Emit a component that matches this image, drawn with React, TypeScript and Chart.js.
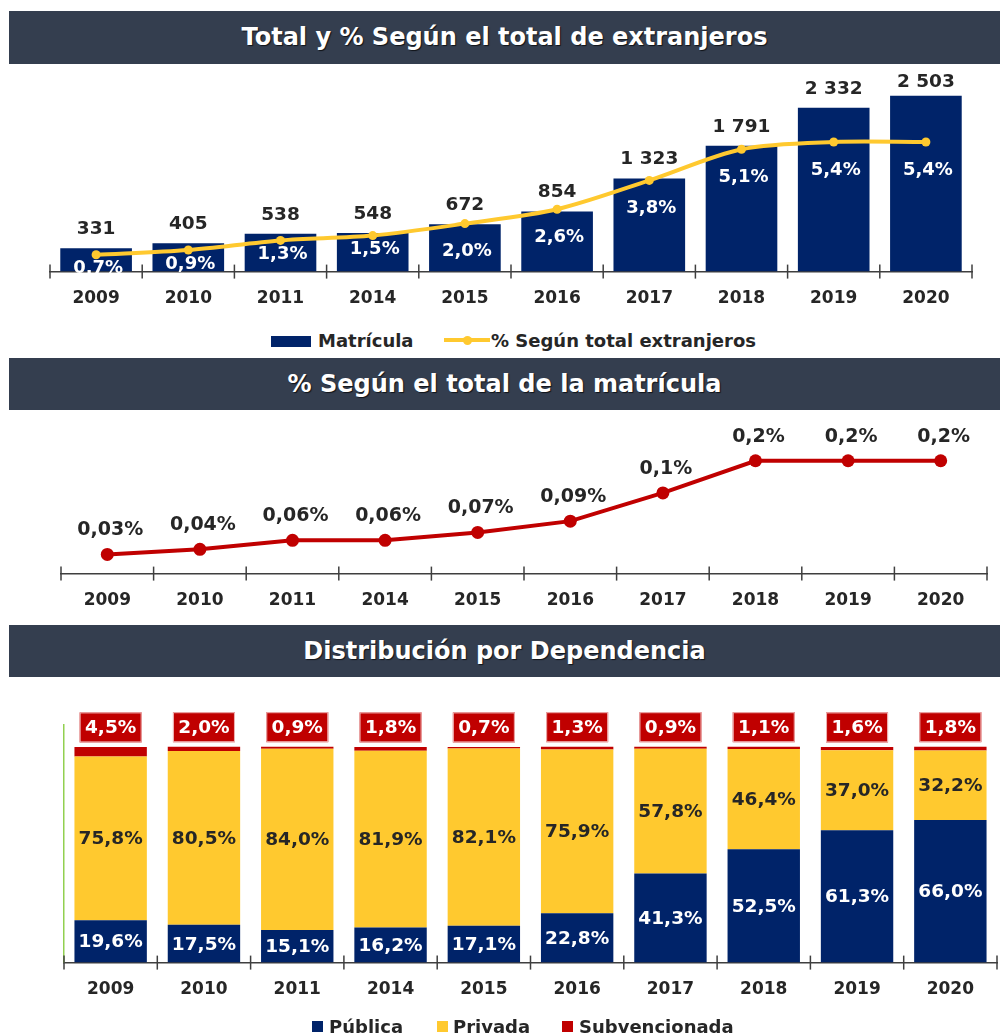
import React, { useEffect, useRef } from 'react';
import { Chart, registerables } from 'chart.js';

Chart.register(...registerables);

// ---------- DATA ----------
const YEARS = ['2009', '2010', '2011', '2014', '2015', '2016', '2017', '2018', '2019', '2020'];
const MATRICULA = [331, 405, 538, 548, 672, 854, 1323, 1791, 2332, 2503];
const PCT_EXTRANJEROS = [0.7, 0.9, 1.3, 1.5, 2.0, 2.6, 3.8, 5.1, 5.4, 5.4];
const PCT_MATRICULA = [0.034, 0.043, 0.059, 0.059, 0.073, 0.093, 0.143, 0.2, 0.2, 0.2];
const PUBLICA = [19.6, 17.5, 15.1, 16.2, 17.1, 22.8, 41.3, 52.5, 61.3, 66.0];
const PRIVADA = [75.8, 80.5, 84.0, 81.9, 82.1, 75.9, 57.8, 46.4, 37.0, 32.2];
const SUBVENCIONADA = [4.5, 2.0, 0.9, 1.8, 0.7, 1.3, 0.9, 1.1, 1.6, 1.8];

const TITLE_1 = 'Total y % Según el total de extranjeros';
const TITLE_2 = '% Según el total de la matrícula';
const TITLE_3 = 'Distribución por Dependencia';
const LEGEND_1 = ['Matrícula', '% Según total extranjeros'];
const LEGEND_3 = ['Pública', 'Privada', 'Subvencionada'];

// ---------- STYLE ----------
const NAVY = '#002369';
const YELLOW = '#ffc92f';
const RED = '#c00000';
const DARK = '#262626';
const AXIS = '#3f3f3f';
const TITLE_BG = '#343e4f';
const FONT = '"DejaVu Sans", sans-serif';

const fmtThousands = (v: number) => String(v).replace(/\B(?=(\d{3})+(?!\d))/g, ' ');
const fmtPct = (v: number, d: number) => v.toFixed(d).replace('.', ',') + '%';
const fmtSmallPct = (v: number) => fmtPct(v, v >= 0.1 ? 1 : 2);

const tickMarks = {
  id: 'tickMarks',
  afterDraw(chart: any) {
    const x = chart.scales.x;
    const ctx = chart.ctx;
    const n = chart.data.labels.length;
    const step = (x.right - x.left) / n;
    const y = x.top;
    ctx.save();
    ctx.strokeStyle = AXIS;
    ctx.lineWidth = 1.5;
    for (let i = 0; i <= n; i++) {
      const px = x.left + i * step;
      ctx.beginPath();
      ctx.moveTo(px, y - 7);
      ctx.lineTo(px, y + 7);
      ctx.stroke();
    }
    ctx.restore();
  },
};

const xAxis = (extra: any = {}) => ({
  grid: { display: false, drawTicks: false },
  border: { display: true, color: AXIS, width: 1.5 },
  ticks: { font: { family: FONT, weight: 'bold', size: 17 }, color: DARK, padding: 17, maxRotation: 0, autoSkip: false },
  ...extra,
});

const labels1 = {
  id: 'labels1',
  afterDatasetsDraw(chart: any) {
    const ctx = chart.ctx;
    const lineMeta = chart.getDatasetMeta(0);
    const barMeta = chart.getDatasetMeta(1);
    const axisY = chart.scales.x.top;
    ctx.save();
    ctx.textAlign = 'center';
    ctx.textBaseline = 'middle';
    ctx.font = `bold 18.5px ${FONT}`;
    ctx.fillStyle = DARK;
    barMeta.data.forEach((bar: any, i: number) => {
      const y = Math.max(bar.y - 19, chart.chartArea.top + 7);
      ctx.fillText(fmtThousands(MATRICULA[i]), bar.x, y);
    });
    ctx.font = `bold 18px ${FONT}`;
    ctx.fillStyle = '#ffffff';
    lineMeta.data.forEach((pt: any, i: number) => {
      const gap = axisY - pt.y;
      const off = gap < 40 ? 14 : 28;
      ctx.fillText(fmtPct(PCT_EXTRANJEROS[i], 1), pt.x + 2, pt.y + off);
    });
    ctx.restore();
  },
};

const labels2 = {
  id: 'labels2',
  afterDatasetsDraw(chart: any) {
    const ctx = chart.ctx;
    const meta = chart.getDatasetMeta(0);
    ctx.save();
    ctx.textAlign = 'center';
    ctx.textBaseline = 'middle';
    ctx.font = `bold 19px ${FONT}`;
    ctx.fillStyle = DARK;
    meta.data.forEach((pt: any, i: number) => {
      ctx.fillText(fmtSmallPct(PCT_MATRICULA[i]), pt.x + 3, pt.y - 24);
    });
    ctx.restore();
  },
};

const labels3 = {
  id: 'labels3',
  afterDatasetsDraw(chart: any) {
    const ctx = chart.ctx;
    const m0 = chart.getDatasetMeta(0);
    const m1 = chart.getDatasetMeta(1);
    const m2 = chart.getDatasetMeta(2);
    ctx.save();
    ctx.textAlign = 'center';
    ctx.textBaseline = 'middle';
    ctx.font = `bold 18.5px ${FONT}`;
    m0.data.forEach((b: any, i: number) => {
      ctx.fillStyle = '#ffffff';
      ctx.fillText(fmtPct(PUBLICA[i], 1), b.x, (b.y + b.base) / 2 + 1);
    });
    m1.data.forEach((b: any, i: number) => {
      ctx.fillStyle = DARK;
      ctx.fillText(fmtPct(PRIVADA[i], 1), b.x, (b.y + b.base) / 2 + 1);
    });
    m2.data.forEach((b: any, i: number) => {
      const w = 62, h = 30;
      const bottom = b.y - 4.5;
      ctx.fillStyle = RED;
      ctx.fillRect(b.x - w / 2, bottom - h, w, h);
      ctx.strokeStyle = '#f0b8b8';
      ctx.lineWidth = 1;
      ctx.strokeRect(b.x - w / 2 + 0.5, bottom - h + 0.5, w - 1, h - 1);
      ctx.fillStyle = '#ffffff';
      ctx.fillText(fmtPct(SUBVENCIONADA[i], 1), b.x, bottom - h / 2 + 1);
    });
    ctx.restore();
  },
};

const titleStyle = (top: number, height: number): React.CSSProperties => ({
  position: 'absolute',
  left: 9,
  top,
  width: 991,
  height,
  background: TITLE_BG,
  color: '#ffffff',
  fontFamily: FONT,
  fontWeight: 'bold',
  fontSize: 24,
  lineHeight: `${height}px`,
  textAlign: 'center',
  textShadow: '1px 1px 1px rgba(0,0,0,0.7)',
  whiteSpace: 'nowrap',
});

const legendText = (left: number, top: number): React.CSSProperties => ({
  position: 'absolute',
  left,
  top,
  height: 22,
  lineHeight: '22px',
  fontFamily: FONT,
  fontWeight: 'bold',
  fontSize: 18,
  color: DARK,
  whiteSpace: 'nowrap',
});

const box = (left: number, top: number, w: number, h: number, bg: string, extra: React.CSSProperties = {}): React.CSSProperties => ({
  position: 'absolute', left, top, width: w, height: h, background: bg, ...extra,
});

export default function App() {
  const c1 = useRef<HTMLCanvasElement>(null);
  const c2 = useRef<HTMLCanvasElement>(null);
  const c3 = useRef<HTMLCanvasElement>(null);

  useEffect(() => {
    const charts: Chart[] = [];

    charts.push(new Chart(c1.current as HTMLCanvasElement, {
      type: 'bar',
      data: {
        labels: YEARS,
        datasets: [
          {
            type: 'line',
            label: LEGEND_1[1],
            data: PCT_EXTRANJEROS,
            yAxisID: 'y2',
            borderColor: YELLOW,
            backgroundColor: YELLOW,
            borderWidth: 4,
            pointRadius: 4.5,
            pointBackgroundColor: YELLOW,
            pointBorderWidth: 0,
            tension: 0.3,
            order: 0,
          } as any,
          {
            type: 'bar',
            label: LEGEND_1[0],
            data: MATRICULA,
            yAxisID: 'y',
            backgroundColor: NAVY,
            barPercentage: 0.777,
            categoryPercentage: 1,
            order: 1,
          },
        ],
      },
      options: {
        animation: false,
        responsive: false,
        layout: { padding: { left: 50, right: 28, top: 10.8, bottom: 0 } },
        plugins: { legend: { display: false }, tooltip: { enabled: false } },
        scales: {
          x: xAxis() as any,
          y: { display: false, min: 0, max: 2800 },
          y2: { display: false, min: 0, max: 8.2, position: 'right' },
        },
      },
      plugins: [tickMarks, labels1],
    }));

    charts.push(new Chart(c2.current as HTMLCanvasElement, {
      type: 'line',
      data: {
        labels: YEARS,
        datasets: [
          {
            label: TITLE_2,
            data: PCT_MATRICULA,
            borderColor: RED,
            backgroundColor: RED,
            borderWidth: 4,
            pointRadius: 6.5,
            pointBackgroundColor: RED,
            pointBorderWidth: 0,
            tension: 0,
          },
        ],
      },
      options: {
        animation: false,
        responsive: false,
        layout: { padding: { left: 61, right: 13, top: 16.9, bottom: 0 } },
        plugins: { legend: { display: false }, tooltip: { enabled: false } },
        scales: {
          x: xAxis({ offset: true }) as any,
          y: { display: false, min: 0, max: 0.26 },
        },
      },
      plugins: [tickMarks, labels2],
    }));

    charts.push(new Chart(c3.current as HTMLCanvasElement, {
      type: 'bar',
      data: {
        labels: YEARS,
        datasets: [
          { label: LEGEND_3[0], data: PUBLICA, backgroundColor: NAVY, barPercentage: 0.776, categoryPercentage: 1 },
          { label: LEGEND_3[1], data: PRIVADA, backgroundColor: YELLOW, barPercentage: 0.776, categoryPercentage: 1 },
          { label: LEGEND_3[2], data: SUBVENCIONADA, backgroundColor: RED, barPercentage: 0.776, categoryPercentage: 1 },
        ],
      },
      options: {
        animation: false,
        responsive: false,
        layout: { padding: { left: 64, right: 3, top: 48.1, bottom: 0 } },
        plugins: { legend: { display: false }, tooltip: { enabled: false } },
        scales: {
          x: xAxis({ stacked: true }) as any,
          y: {
            stacked: true,
            min: 0,
            max: 110,
            ticks: { display: false },
            grid: { display: false, drawTicks: false },
            border: { display: true, color: '#92d050', width: 1.5 },
          },
        },
      },
      plugins: [tickMarks, labels3],
    }));

    return () => charts.forEach((c) => c.destroy());
  }, []);

  return (
    <div style={{ position: 'absolute', left: 0, top: 0, width: 1000, height: 1034, background: '#ffffff', overflow: 'hidden' }}>
      <canvas ref={c1} width={1000} height={262} style={{ position: 'absolute', left: 0, top: 64 }} />
      <canvas ref={c2} width={1000} height={218} style={{ position: 'absolute', left: 0, top: 410 }} />
      <canvas ref={c3} width={1000} height={340} style={{ position: 'absolute', left: 0, top: 677 }} />

      <div style={titleStyle(11, 53)}>{TITLE_1}</div>
      <div style={titleStyle(358, 52)}>{TITLE_2}</div>
      <div style={titleStyle(625, 52)}>{TITLE_3}</div>

      {/* Legend 1 */}
      <div style={box(271, 336, 40, 11, NAVY)} />
      <div style={legendText(318, 330)}>{LEGEND_1[0]}</div>
      <div style={box(444, 338, 46, 4, YELLOW)} />
      <div style={box(463, 335.5, 9, 9, YELLOW, { borderRadius: '50%' })} />
      <div style={legendText(491, 330)}>{LEGEND_1[1]}</div>

      {/* Legend 3 */}
      <div style={box(312, 1021, 11, 11, NAVY)} />
      <div style={legendText(329, 1016)}>{LEGEND_3[0]}</div>
      <div style={box(437, 1021, 11, 11, YELLOW)} />
      <div style={legendText(453, 1016)}>{LEGEND_3[1]}</div>
      <div style={box(562, 1021, 11, 11, RED)} />
      <div style={legendText(579, 1016)}>{LEGEND_3[2]}</div>
    </div>
  );
}
